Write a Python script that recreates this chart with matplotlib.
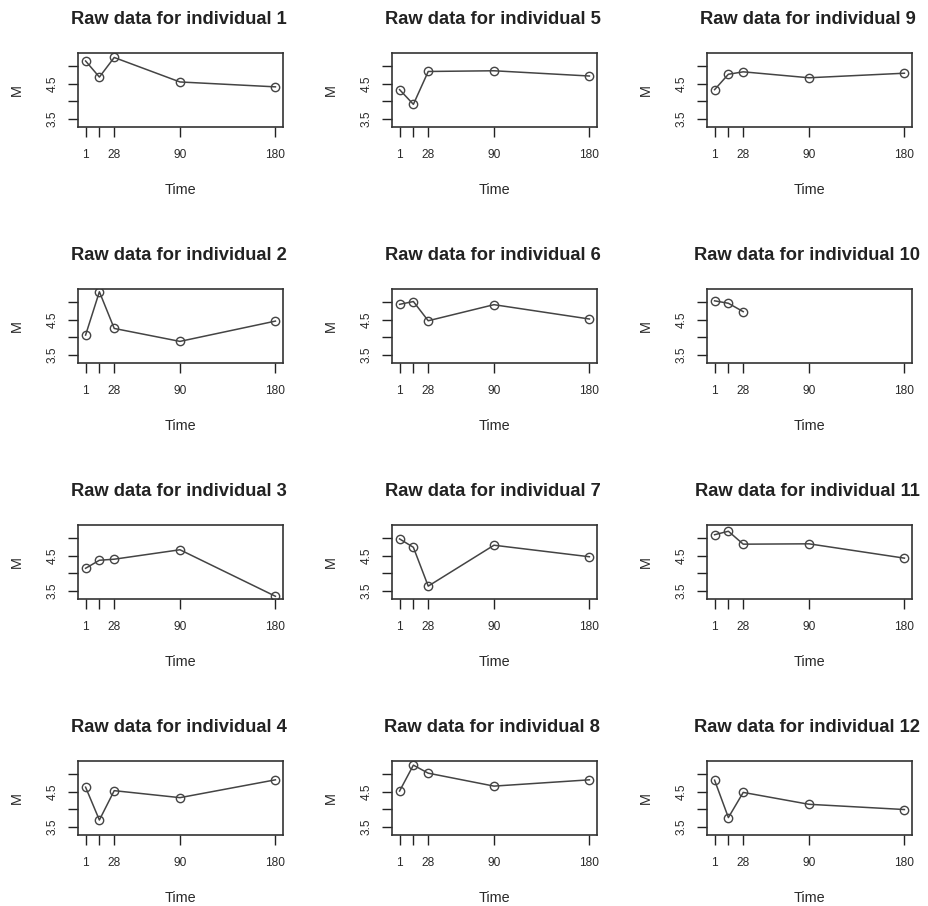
import matplotlib
matplotlib.use('Agg')
import matplotlib.pyplot as plt
import numpy as np

plt.rcParams['font.family'] = ['Liberation Sans', 'DejaVu Sans']

# Measurement times (days)
times = [1, 14, 28, 90, 180]

# Raw M values per individual
ind1 = [5.15, 4.69, 5.25, 4.55, 4.41]
ind2 = [4.06, 5.30, 4.25, 3.88, 4.46]
ind3 = [4.14, 4.37, 4.40, 4.67, 3.34]
ind4 = [4.63, 3.69, 4.53, 4.33, 4.84]
ind5 = [4.33, 3.91, 4.85, 4.87, 4.72]
ind6 = [4.94, 5.02, 4.47, 4.93, 4.52]
ind7 = [4.98, 4.74, 3.63, 4.80, 4.47]
ind8 = [4.52, 5.26, 5.03, 4.66, 4.84]
ind9 = [4.33, 4.77, 4.84, 4.67, 4.80]
ind10 = [5.04, 4.97, 4.73]
ind11 = [5.10, 5.20, 4.83, 4.84, 4.43]
ind12 = [4.83, 3.76, 4.48, 4.14, 3.99]

individuals = [ind1, ind2, ind3, ind4, ind5, ind6,
               ind7, ind8, ind9, ind10, ind11, ind12]

x_ticks = [1, 14, 28, 90, 180]
x_ticklabels = ['1', '', '28', '90', '180']
y_ticks = [3.5, 4.0, 4.5, 5.0]
y_ticklabels = ['3.5', '', '4.5', '']

# sizes
title_size = 13.2
label_size = 10.4
tick_size = 8.6
col = '#444444'
txt = '#2a2a2a'

W, H = 929, 906
fig = plt.figure(figsize=(W / 100, H / 100), dpi=100)

# panel boxes in pixels (R mfrow=c(4,3), filled by column)
col_left = [78, 392, 707]
row_top = [53, 289, 525, 761]
box_w, box_h = 205, 74

all_vals = np.concatenate([np.array(v) for v in individuals])
ymin, ymax = all_vals.min(), all_vals.max()
ypad = 0.04 * (ymax - ymin)
xpad = 0.04 * (max(times) - min(times))

for k, vals in enumerate(individuals):
    c = k // 4
    r = k % 4
    left = col_left[c] / W
    bottom = 1 - (row_top[r] + box_h) / H
    ax = fig.add_axes([left, bottom, box_w / W, box_h / H])

    ax.plot(times[:len(vals)], vals, color=col, lw=1.1, marker='o',
            markersize=6, markerfacecolor='none', markeredgecolor=col,
            markeredgewidth=1.0)

    ax.set_xlim(min(times) - xpad, max(times) + xpad)
    ax.set_ylim(ymin - ypad, ymax + ypad)

    ax.set_xticks(x_ticks)
    ax.set_xticklabels(x_ticklabels)
    ax.set_yticks(y_ticks)
    ax.set_yticklabels(y_ticklabels, rotation=90, va='center')

    ax.tick_params(axis='both', direction='out', length=7, width=1.0,
                   colors='#222222', labelcolor=txt, labelsize=tick_size)
    ax.tick_params(axis='x', pad=9)
    ax.tick_params(axis='y', pad=7)

    for s in ax.spines.values():
        s.set_linewidth(1.2)
        s.set_color('#333333')

    ax.set_xlabel('Time', fontsize=label_size, va='center', color=txt)
    ax.xaxis.set_label_coords(0.5, -63 / box_h)
    ax.set_ylabel('M', fontsize=label_size, va='center', ha='center',
                  color=txt)
    ax.yaxis.set_label_coords(-61 / box_w, 0.5)

    ax.text(0.49, 1 + 34 / box_h, f'Raw data for individual {k + 1}',
            transform=ax.transAxes, ha='center', va='center',
            fontsize=title_size, fontweight='bold', color='#222222')

plt.savefig('out.png', dpi=100)
